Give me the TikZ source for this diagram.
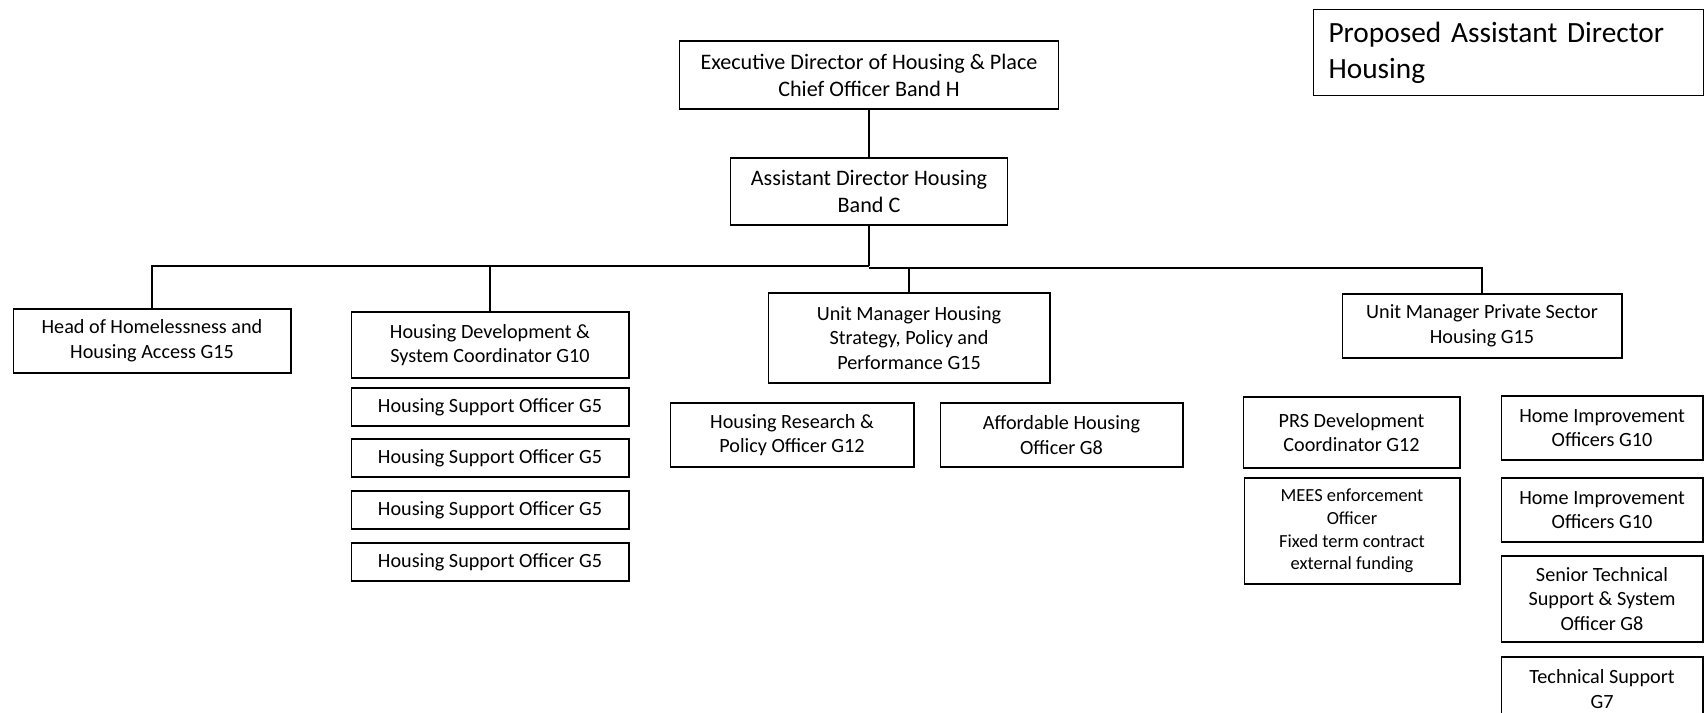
\documentclass[tikz,border=0pt]{standalone}
\usepackage{fontspec}
\setmainfont{Carlito}
\tikzset{
  caja/.style={draw, line width=0.6pt, align=center, inner sep=0pt,
    font=\fontsize{11.5}{14.1}\selectfont},
  cajagrande/.style={caja, font=\fontsize{12.6}{15.4}\selectfont},
  cajachica/.style={caja, font=\fontsize{10.5}{12.9}\selectfont},
}
\begin{document}
\begin{tikzpicture}[x=0.02cm,y=-0.02cm]
                \useasboundingbox (0,0) rectangle (1704,713);
                \clip (0,0) rectangle (1704,713);
                % titulo
                \node [draw, line width=0.6pt, anchor=north west, minimum width=7.8cm, minimum height=1.72cm,
                  text width=7.2cm, align=left, inner xsep=0.3cm, font=\fontsize{16.7}{20.4}\selectfont]
                  (titulo) at (1313,9) {Proposed Assistant Director\\Housing};
                % direccion
                \node [cajagrande, minimum width=7.58cm, minimum height=1.36cm] (exec) at (869,75)
                  {Executive Director of Housing \& Place\\Chief Officer Band H};
                \node [cajagrande, minimum width=5.54cm, minimum height=1.34cm] (ad) at (869,191.5)
                  {Assistant Director Housing\\Band C};
                \draw [line width=0.6pt] (exec) -- (ad);
                \coordinate (bus) at (869,266);
                \coordinate (busder) at (869,268);
                % jefes
                \node [caja, minimum width=5.56cm, minimum height=1.28cm] (head) at (152,341)
                  {Head of Homelessness and\\Housing Access G15};
                \node [caja, minimum width=5.56cm, minimum height=1.32cm] (hdsc) at (490,345)
                  {Housing Development \&\\System Coordinator G10};
                \node [caja, minimum width=5.64cm, minimum height=1.8cm] (umhspp) at (909,338)
                  {Unit Manager Housing\\Strategy, Policy and\\Performance G15};
                \node [caja, minimum width=5.6cm, minimum height=1.28cm] (umpsh) at (1482,326)
                  {Unit Manager Private Sector\\Housing G15};
                \draw [line width=1.2pt] (ad.south) -- (bus);
                \draw [line width=0.6pt] (bus) -| (head.north);
                \draw [line width=0.6pt] (bus) -| (hdsc.north);
                \draw [line width=0.6pt] (busder) -| (umhspp.north);
                \draw [line width=0.6pt] (busder) -| (umpsh.north);
                % apoyo
                \foreach \i/\y in {1/407,2/458,3/510,4/562}
                \node [caja, minimum width=5.56cm, minimum height=0.76cm] (hso\i) at (490,\y)
                  {Housing Support Officer G5};
                \node [caja, minimum width=4.88cm, minimum height=1.28cm] (hrpo) at (792,435)
                  {Housing Research \&\\Policy Officer G12};
                \node [caja, minimum width=4.86cm, minimum height=1.28cm] (aho) at (1061.5,435)
                  {Affordable Housing\\Officer G8};
                \node [caja, minimum width=4.34cm, minimum height=1.42cm] (prs) at (1351.5,432.5)
                  {PRS Development\\Coordinator G12};
                \node [cajachica, minimum width=4.32cm, minimum height=2.12cm] (mees) at (1352,531)
                  {MEES enforcement\\Officer\\Fixed term contract\\external funding};
                \node [caja, minimum width=4.04cm, minimum height=1.28cm] (hio1) at (1602,428)
                  {Home Improvement\\Officers G10};
                \node [caja, minimum width=4.04cm, minimum height=1.28cm] (hio2) at (1602,510)
                  {Home Improvement\\Officers G10};
                \node [caja, minimum width=4.04cm, minimum height=1.72cm] (stsso) at (1602,599)
                  {Senior Technical\\Support \& System\\Officer G8};
                \node [caja, minimum width=4.04cm, minimum height=1.28cm] (ts) at (1602,689)
                  {Technical Support\\G7};
\end{tikzpicture}
\end{document}
